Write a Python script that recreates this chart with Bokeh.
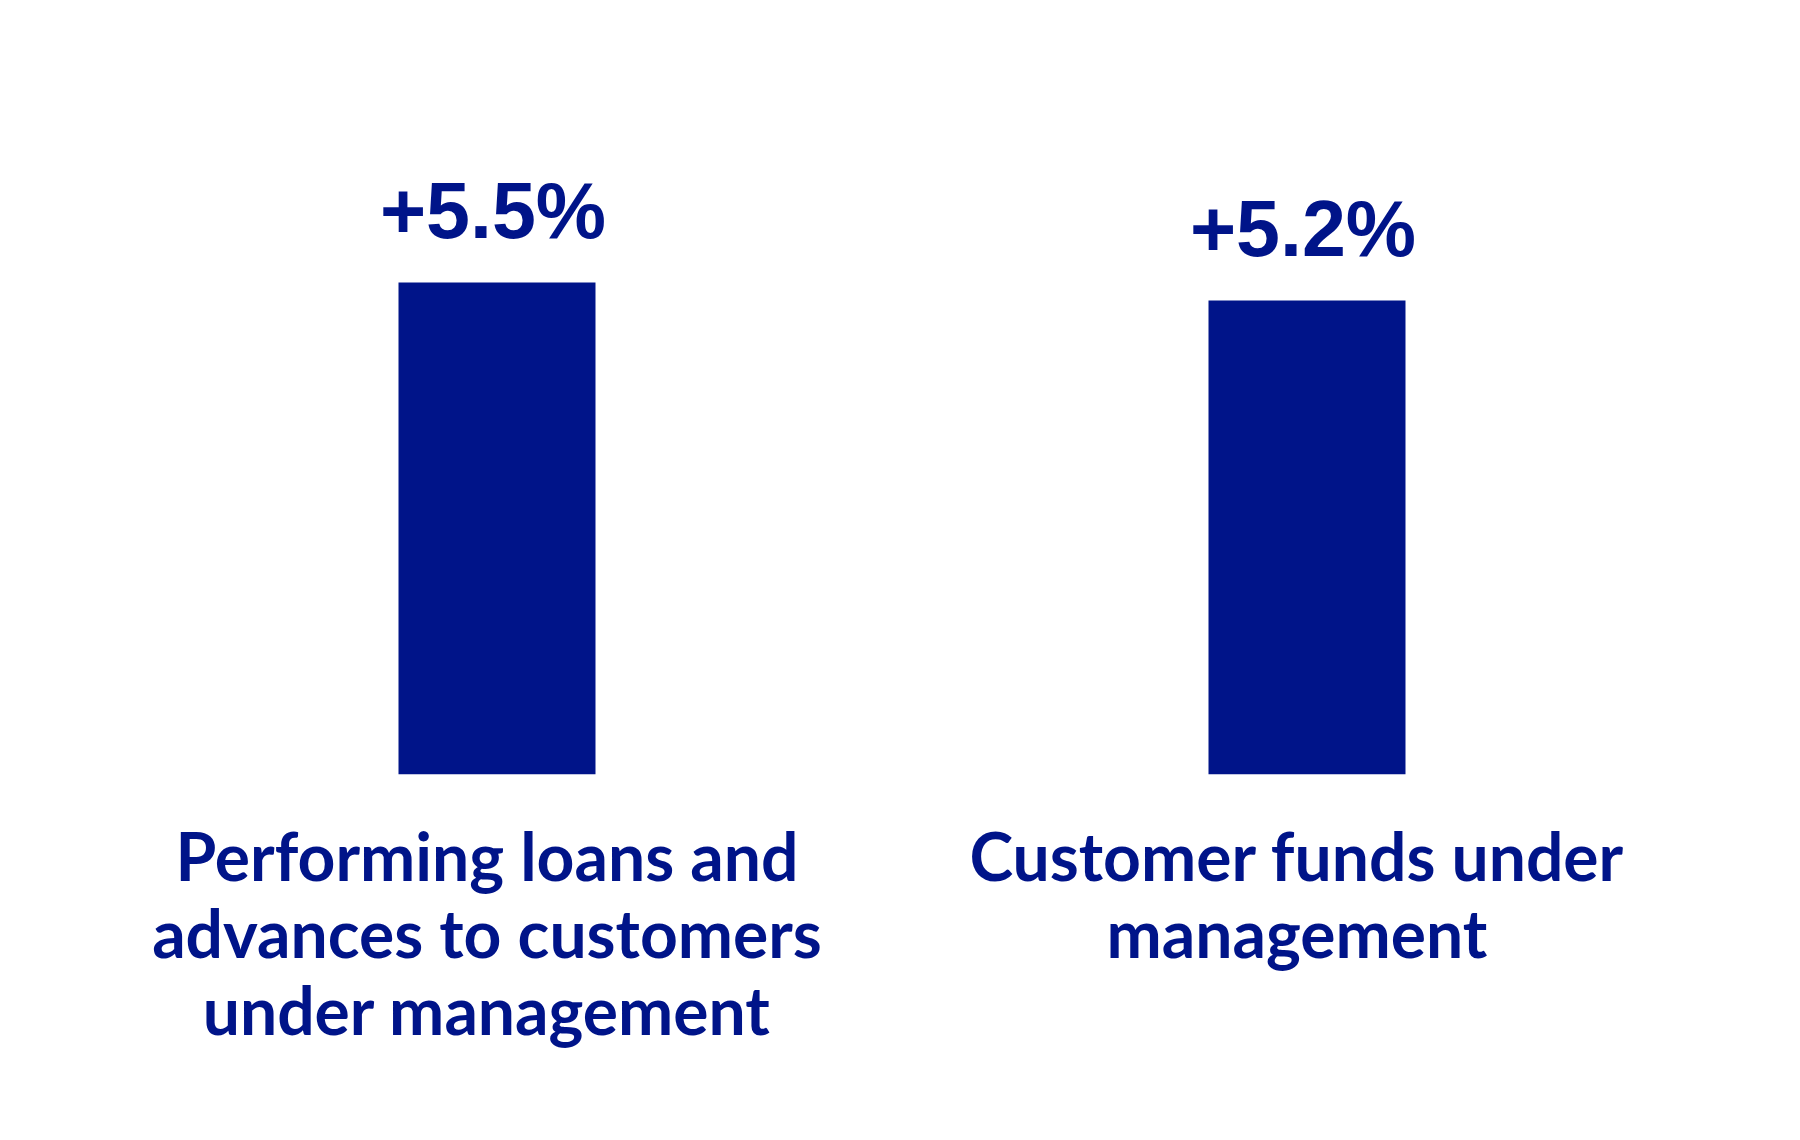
from bokeh.plotting import figure
from bokeh.models import ColumnDataSource, Range1d
from bokeh.core.properties import value
from bokeh.embed import file_html
from bokeh.resources import INLINE

# ---- data ----
categories = ["Performing loans and\nadvances to customers\nunder management",
              "Customer funds under\nmanagement"]
growth = [5.5, 5.2]
growth_labels = ["+5.5%", "+5.2%"]

# ---- style / layout ----
COLOR = "#001489"
BASE = -2.695          # visual baseline of the bars (no axis shown)
W, H = 1784, 1124

xs = list(range(len(categories)))

p = figure(width=W, height=H, output_backend="svg", toolbar_location=None,
           x_range=Range1d(-0.61296, 1.58951), y_range=Range1d(-8.5333, 10.2),
           min_border=0, min_border_left=0, min_border_right=0,
           min_border_top=0, min_border_bottom=0)
p.axis.visible = False
p.grid.visible = False
p.outline_line_color = None
p.background_fill_color = "white"
p.border_fill_color = "white"

bars = ColumnDataSource(dict(x=xs, top=growth, lab=growth_labels))
p.vbar(x="x", top="top", bottom=BASE, width=0.2432, source=bars,
       fill_color=COLOR, line_color=None)

p.text(x="x", y="top", text="lab", source=bars, text_align="center",
       text_baseline="alphabetic", y_offset=-72, x_offset=-4,
       text_font=value("Liberation Sans"), text_font_style="bold",
       text_font_size="79px", text_color=COLOR)

# category labels, line by line
lx, ly, lt, loff = [], [], [], []
for i, cat in enumerate(categories):
    for j, line in enumerate(cat.split("\n")):
        lx.append(xs[i]); ly.append(BASE); lt.append(line); loff.append(81 + 77 * j)
labs = ColumnDataSource(dict(x=lx, y=ly, t=lt, off=loff))
p.text(x="x", y="y", text="t", y_offset="off", x_offset=-10, source=labs,
       text_align="center", text_baseline="alphabetic",
       text_font=value("Lato"), text_font_style="bold",
       text_font_size="66px", text_color=COLOR)

open("out.html", "w").write(file_html(p, INLINE))
